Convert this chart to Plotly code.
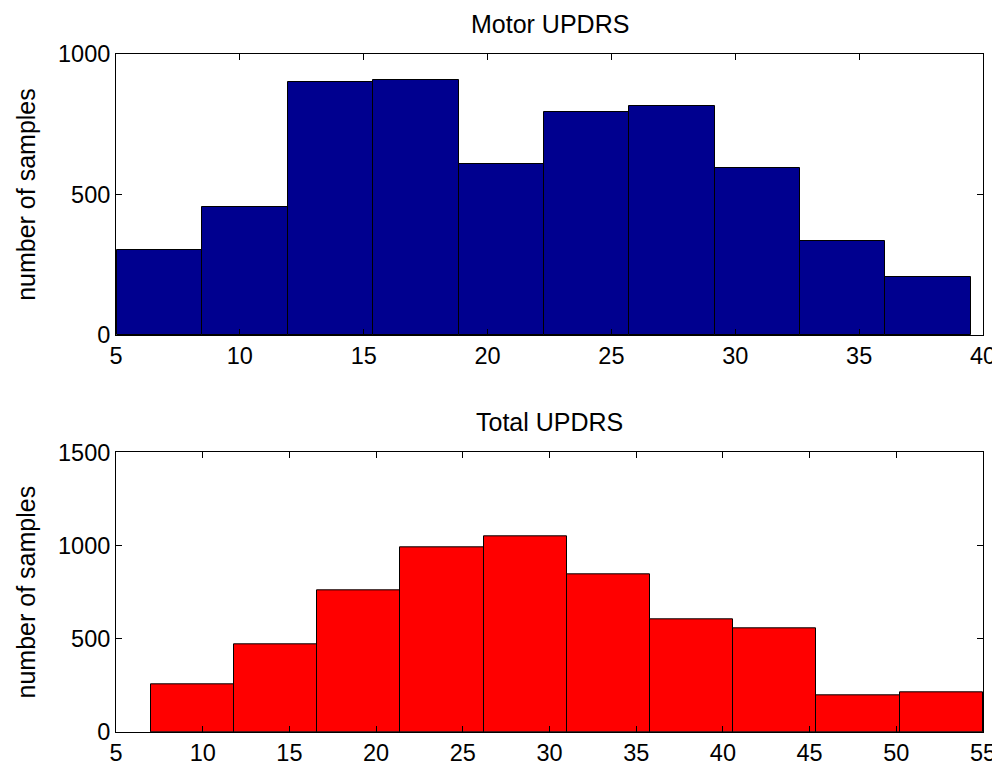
import plotly.graph_objects as go
from plotly.subplots import make_subplots

# Motor UPDRS histogram (10 bins)
motor_range = [5.0377, 39.511]
motor_counts = [302, 457, 899, 906, 607, 792, 814, 593, 336, 208]
motor_xticks = [5, 10, 15, 20, 25, 30, 35, 40]
motor_yticks = [0, 500, 1000]

# Total UPDRS histogram (10 bins)
total_range = [7.0, 54.992]
total_counts = [257, 471, 761, 989, 1052, 848, 602, 557, 195, 214]
total_xticks = [5, 10, 15, 20, 25, 30, 35, 40, 45, 50, 55]
total_yticks = [0, 500, 1000, 1500]


def bins(rng, counts):
    n = len(counts)
    w = (rng[1] - rng[0]) / n
    centers = [rng[0] + w * (i + 0.5) for i in range(n)]
    return centers, w


FONT = "Liberation Sans, Arial, Helvetica, sans-serif"

fig = make_subplots(rows=2, cols=1, vertical_spacing=0.0)

mc, mw = bins(motor_range, motor_counts)
tc, tw = bins(total_range, total_counts)

fig.add_trace(go.Bar(x=mc, y=motor_counts, width=mw,
                     marker=dict(color="rgb(0,0,143)", line=dict(color="black", width=1)),
                     showlegend=False, hoverinfo="x+y"), row=1, col=1)
fig.add_trace(go.Bar(x=tc, y=total_counts, width=tw,
                     marker=dict(color="rgb(255,0,0)", line=dict(color="black", width=1)),
                     showlegend=False, hoverinfo="x+y"), row=2, col=1)

axis_common = dict(showline=True, linecolor="black", linewidth=1, mirror="ticks",
                   ticks="inside", ticklen=6, tickcolor="black", tickwidth=1,
                   showgrid=False, zeroline=False, automargin=False,
                   tickfont=dict(family=FONT, size=23.5, color="black"))

ytitle = dict(text="number of samples", font=dict(family=FONT, size=25), standoff=15)

# page body has an 8px default margin, so the figure is sized to fit the window
fig.update_layout(
    width=992, height=759,
    margin=dict(l=108, r=17, t=46, b=35),
    paper_bgcolor="white", plot_bgcolor="white",
    bargap=0,
    font=dict(family=FONT, color="black"),
    xaxis=dict(domain=[0, 1], range=[5, 40], tickvals=motor_xticks, **axis_common),
    yaxis=dict(domain=[0.5854, 1], range=[0, 1000], tickvals=motor_yticks,
               title=ytitle, **axis_common),
    xaxis2=dict(domain=[0, 0.4124 * 0 + 1], range=[5, 55], tickvals=total_xticks, **axis_common),
    yaxis2=dict(domain=[0, 0.4125], range=[0, 1500], tickvals=total_yticks,
                title=ytitle, **axis_common),
)

for xr, yr, txt in [("x domain", "y domain", "Motor UPDRS"), ("x2 domain", "y2 domain", "Total UPDRS")]:
    fig.add_annotation(x=0.5, y=1, xref=xr, yref=yr, text=txt, showarrow=False,
                       xanchor="center", yanchor="bottom", yshift=14,
                       font=dict(family=FONT, size=25, color="black"))

fig.write_html("out.html")
